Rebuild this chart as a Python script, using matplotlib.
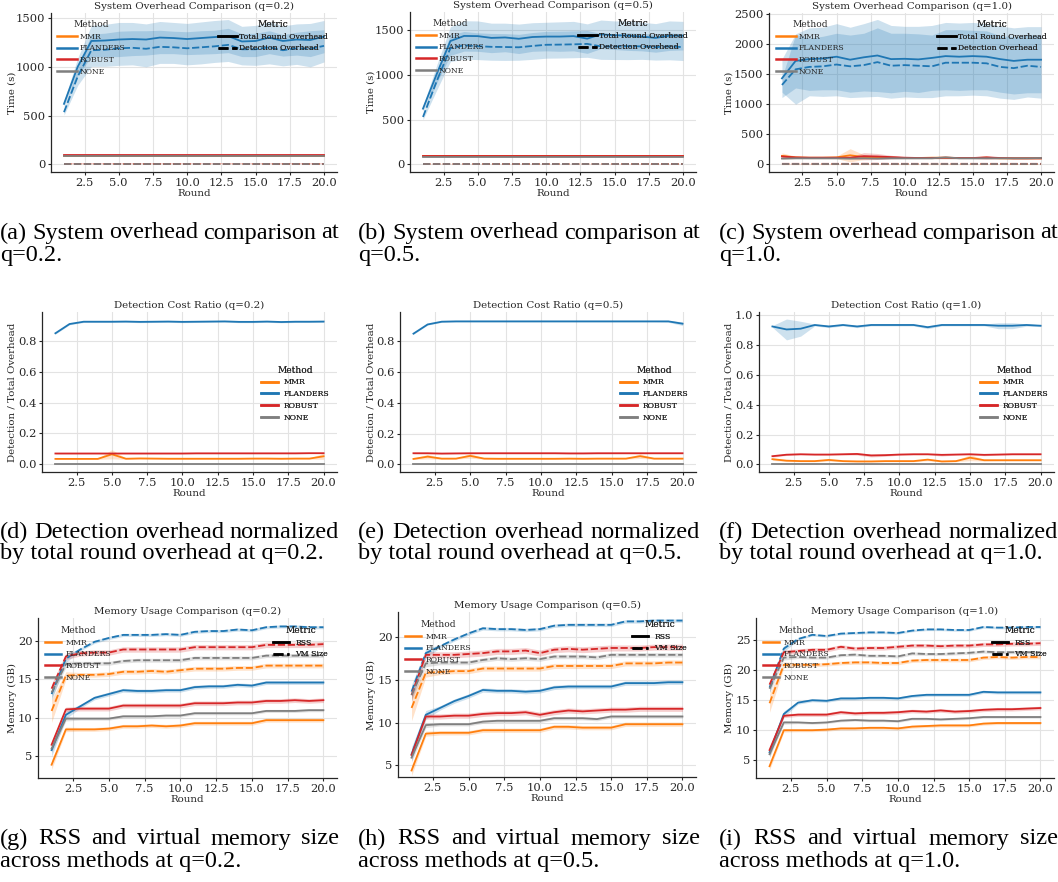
import numpy as np
import matplotlib
matplotlib.use("Agg")
import matplotlib.pyplot as plt
from matplotlib.lines import Line2D

# ---------------- data ----------------
rounds = list(range(1, 21))
methods = ["MMR", "FLANDERS", "ROBUST", "NONE"]
method_colors = ["#ff7f0e", "#1f77b4", "#d62728", "#7f7f7f"]

# System overhead (s): total round overhead / detection overhead
ovh_total_q02 = {
    "MMR": [88, 88, 88, 88, 88, 88, 88, 88, 88, 88, 88, 88, 88, 88, 88, 88, 88, 88, 88, 88],
    "FLANDERS": [620, 1000, 1265, 1270, 1280, 1285, 1280, 1300, 1295, 1285, 1295, 1305, 1315, 1260, 1265, 1300, 1265, 1280, 1275, 1310],
    "ROBUST": [95, 95, 95, 95, 95, 95, 95, 95, 95, 95, 95, 95, 95, 95, 95, 95, 95, 95, 95, 95],
    "NONE": [84, 84, 84, 84, 84, 84, 84, 84, 84, 84, 84, 84, 84, 84, 84, 84, 84, 84, 84, 84],
}
ovh_det_q02 = {
    "MMR": [3, 3, 3, 3, 3, 3, 3, 3, 3, 3, 3, 3, 3, 3, 3, 3, 3, 3, 3, 3],
    "FLANDERS": [535, 900, 1170, 1175, 1190, 1195, 1185, 1205, 1200, 1190, 1200, 1210, 1225, 1180, 1180, 1200, 1170, 1190, 1185, 1215],
    "ROBUST": [8, 8, 8, 8, 8, 8, 8, 8, 8, 8, 8, 8, 8, 8, 8, 8, 8, 8, 8, 8],
    "NONE": [0, 0, 0, 0, 0, 0, 0, 0, 0, 0, 0, 0, 0, 0, 0, 0, 0, 0, 0, 0],
}
ovh_total_ci_q02 = {
    "MMR": 2, "ROBUST": 2, "NONE": 2,
    "FLANDERS": [30, 90, 160, 165, 175, 170, 160, 165, 160, 160, 165, 170, 170, 155, 160, 165, 155, 160, 170, 165],
}
ovh_det_ci_q02 = {
    "MMR": 1, "ROBUST": 1, "NONE": 1,
    "FLANDERS": [30, 90, 165, 170, 175, 175, 185, 170, 165, 170, 170, 165, 170, 160, 165, 170, 160, 165, 185, 165],
}

ovh_total_q05 = {
    "MMR": [88, 88, 88, 88, 88, 88, 88, 88, 88, 88, 88, 88, 88, 88, 88, 88, 88, 88, 88, 88],
    "FLANDERS": [623, 1010, 1380, 1437, 1435, 1415, 1420, 1405, 1425, 1430, 1430, 1435, 1407, 1455, 1445, 1440, 1430, 1415, 1440, 1440],
    "ROBUST": [92, 92, 92, 92, 92, 92, 92, 92, 92, 92, 92, 92, 92, 92, 92, 92, 92, 92, 92, 92],
    "NONE": [86, 86, 86, 86, 86, 86, 86, 86, 86, 86, 86, 86, 86, 86, 86, 86, 86, 86, 86, 86],
}
ovh_det_q05 = {
    "MMR": [3, 3, 3, 3, 3, 3, 3, 3, 3, 3, 3, 3, 3, 3, 3, 3, 3, 3, 3, 3],
    "FLANDERS": [530, 930, 1300, 1332, 1322, 1315, 1313, 1310, 1325, 1338, 1340, 1343, 1348, 1320, 1318, 1322, 1320, 1312, 1320, 1312],
    "ROBUST": [8, 8, 8, 8, 8, 8, 8, 8, 8, 8, 8, 8, 8, 8, 8, 8, 8, 8, 8, 8],
    "NONE": [0, 0, 0, 0, 0, 0, 0, 0, 0, 0, 0, 0, 0, 0, 0, 0, 0, 0, 0, 0],
}
ovh_total_ci_q05 = {
    "MMR": 2, "ROBUST": 2, "NONE": 2,
    "FLANDERS": [30, 100, 160, 170, 170, 165, 160, 165, 160, 160, 165, 165, 165, 160, 160, 165, 160, 160, 165, 160],
}
ovh_det_ci_q05 = {
    "MMR": 1, "ROBUST": 1, "NONE": 1,
    "FLANDERS": [30, 100, 150, 155, 150, 150, 150, 145, 150, 150, 150, 150, 150, 145, 145, 150, 145, 145, 150, 150],
}

ovh_total_q10 = {
    "MMR": [140, 115, 110, 110, 115, 150, 120, 115, 110, 105, 105, 110, 110, 105, 105, 110, 100, 100, 100, 100],
    "FLANDERS": [1430, 1720, 1750, 1760, 1790, 1740, 1780, 1810, 1750, 1755, 1745, 1770, 1800, 1790, 1800, 1790, 1750, 1720, 1740, 1740],
    "ROBUST": [130, 115, 110, 110, 110, 110, 135, 130, 120, 110, 105, 105, 110, 105, 105, 115, 105, 100, 100, 100],
    "NONE": [95, 100, 100, 100, 100, 95, 100, 95, 100, 100, 100, 100, 115, 100, 100, 100, 100, 100, 100, 105],
}
ovh_det_q10 = {
    "MMR": [3, 3, 3, 3, 3, 4, 3, 3, 3, 3, 3, 3, 3, 3, 3, 3, 3, 3, 3, 3],
    "FLANDERS": [1320, 1580, 1620, 1630, 1660, 1630, 1650, 1700, 1640, 1650, 1640, 1630, 1690, 1690, 1690, 1680, 1620, 1600, 1640, 1620],
    "ROBUST": [8, 8, 8, 8, 8, 8, 9, 9, 8, 8, 8, 8, 8, 8, 8, 8, 8, 8, 8, 8],
    "NONE": [0, 0, 0, 0, 0, 0, 0, 0, 0, 0, 0, 0, 0, 0, 0, 0, 0, 0, 0, 0],
}
ovh_total_ci_q10 = {
    "MMR": [50, 20, 15, 15, 20, 110, 40, 20, 15, 10, 10, 15, 15, 10, 10, 15, 10, 10, 10, 10],
    "FLANDERS": [320, 450, 520, 520, 550, 540, 560, 600, 560, 540, 550, 540, 560, 560, 560, 550, 550, 550, 550, 550],
    "ROBUST": [30, 15, 15, 15, 15, 15, 60, 50, 30, 15, 10, 10, 15, 10, 10, 30, 10, 10, 10, 10],
    "NONE": [10, 10, 10, 10, 10, 10, 10, 10, 10, 10, 10, 10, 25, 10, 10, 10, 10, 10, 10, 15],
}
ovh_det_ci_q10 = {
    "MMR": 1, "ROBUST": 1, "NONE": 1,
    "FLANDERS": [120, 580, 480, 500, 520, 520, 530, 570, 540, 530, 530, 520, 550, 550, 540, 540, 520, 520, 520, 520],
}

# Detection cost ratio (detection / total overhead)
ratio_q02 = {
    "MMR": [0.035, 0.035, 0.035, 0.035, 0.065, 0.036, 0.038, 0.037, 0.036, 0.036, 0.036, 0.036, 0.036, 0.036, 0.037, 0.037, 0.036, 0.037, 0.037, 0.052],
    "FLANDERS": [0.850, 0.910, 0.925, 0.925, 0.925, 0.926, 0.924, 0.925, 0.926, 0.924, 0.925, 0.926, 0.927, 0.924, 0.924, 0.926, 0.923, 0.925, 0.925, 0.926],
    "ROBUST": [0.070, 0.070, 0.070, 0.070, 0.070, 0.070, 0.070, 0.070, 0.070, 0.070, 0.071, 0.071, 0.071, 0.071, 0.071, 0.071, 0.071, 0.071, 0.072, 0.072],
    "NONE": [0, 0, 0, 0, 0, 0, 0, 0, 0, 0, 0, 0, 0, 0, 0, 0, 0, 0, 0, 0],
}
ratio_ci_q02 = {
    "MMR": [0.003, 0.003, 0.003, 0.003, 0.03, 0.004, 0.004, 0.003, 0.003, 0.003, 0.003, 0.003, 0.003, 0.003, 0.003, 0.003, 0.003, 0.003, 0.004, 0.02],
    "FLANDERS": 0.005, "ROBUST": 0.002, "NONE": 0.0,
}
ratio_q05 = {
    "MMR": [0.035, 0.050, 0.037, 0.037, 0.055, 0.037, 0.036, 0.036, 0.036, 0.036, 0.036, 0.037, 0.036, 0.037, 0.037, 0.037, 0.053, 0.037, 0.037, 0.037],
    "FLANDERS": [0.850, 0.910, 0.928, 0.930, 0.930, 0.930, 0.930, 0.930, 0.930, 0.930, 0.930, 0.930, 0.930, 0.930, 0.930, 0.930, 0.930, 0.930, 0.930, 0.915],
    "ROBUST": [0.072, 0.072, 0.070, 0.071, 0.072, 0.072, 0.072, 0.072, 0.072, 0.072, 0.072, 0.071, 0.071, 0.072, 0.072, 0.072, 0.072, 0.072, 0.072, 0.072],
    "NONE": [0, 0, 0, 0, 0, 0, 0, 0, 0, 0, 0, 0, 0, 0, 0, 0, 0, 0, 0, 0],
}
ratio_ci_q05 = {
    "MMR": [0.003, 0.015, 0.004, 0.003, 0.015, 0.004, 0.003, 0.003, 0.003, 0.003, 0.003, 0.003, 0.003, 0.003, 0.003, 0.004, 0.015, 0.004, 0.003, 0.003],
    "FLANDERS": [0.004, 0.004, 0.004, 0.004, 0.004, 0.004, 0.004, 0.004, 0.004, 0.004, 0.004, 0.004, 0.004, 0.004, 0.004, 0.004, 0.004, 0.004, 0.006, 0.012],
    "ROBUST": 0.003, "NONE": 0.0,
}
ratio_q10 = {
    "MMR": [0.035, 0.025, 0.022, 0.022, 0.030, 0.022, 0.020, 0.020, 0.022, 0.022, 0.022, 0.032, 0.020, 0.022, 0.045, 0.028, 0.028, 0.028, 0.028, 0.028],
    "FLANDERS": [0.925, 0.905, 0.910, 0.935, 0.925, 0.935, 0.925, 0.935, 0.935, 0.935, 0.935, 0.920, 0.935, 0.935, 0.935, 0.935, 0.930, 0.930, 0.935, 0.930],
    "ROBUST": [0.055, 0.065, 0.068, 0.066, 0.066, 0.068, 0.070, 0.060, 0.062, 0.066, 0.068, 0.068, 0.064, 0.066, 0.068, 0.064, 0.066, 0.068, 0.068, 0.068],
    "NONE": [0, 0, 0, 0, 0, 0, 0, 0, 0, 0, 0, 0, 0, 0, 0, 0, 0, 0, 0, 0],
}
ratio_ci_q10 = {
    "MMR": [0.008, 0.006, 0.004, 0.004, 0.008, 0.004, 0.004, 0.004, 0.004, 0.004, 0.004, 0.008, 0.004, 0.004, 0.020, 0.006, 0.005, 0.005, 0.005, 0.005],
    "FLANDERS": [0.006, 0.070, 0.050, 0.006, 0.008, 0.006, 0.008, 0.006, 0.006, 0.006, 0.006, 0.010, 0.006, 0.006, 0.006, 0.006, 0.020, 0.020, 0.008, 0.006],
    "ROBUST": [0.006, 0.005, 0.004, 0.004, 0.004, 0.005, 0.008, 0.010, 0.008, 0.004, 0.004, 0.004, 0.008, 0.004, 0.004, 0.006, 0.004, 0.004, 0.004, 0.004],
    "NONE": 0.0,
}

# Memory (GB): RSS / VM size
mem_rss_q02 = {
    "MMR": [3.9, 8.5, 8.5, 8.5, 8.6, 8.9, 8.9, 9.0, 8.9, 9.0, 9.3, 9.3, 9.3, 9.3, 9.3, 9.7, 9.7, 9.7, 9.7, 9.7],
    "FLANDERS": [5.8, 10.4, 11.5, 12.6, 13.1, 13.6, 13.5, 13.5, 13.6, 13.6, 14.0, 14.1, 14.1, 14.3, 14.2, 14.6, 14.6, 14.6, 14.6, 14.6],
    "ROBUST": [6.5, 11.1, 11.2, 11.2, 11.2, 11.6, 11.6, 11.6, 11.6, 11.6, 11.9, 11.9, 11.9, 12.0, 12.0, 12.2, 12.2, 12.3, 12.2, 12.3],
    "NONE": [6.0, 9.9, 9.9, 9.9, 9.9, 10.2, 10.2, 10.2, 10.3, 10.3, 10.6, 10.6, 10.6, 10.6, 10.6, 10.9, 10.9, 10.9, 11.0, 11.0],
}
mem_vm_q02 = {
    "MMR": [10.9, 15.5, 15.6, 15.6, 15.7, 16.0, 16.0, 16.1, 16.0, 16.2, 16.4, 16.4, 16.4, 16.5, 16.5, 16.8, 16.8, 16.8, 16.8, 16.8],
    "FLANDERS": [13.1, 17.7, 18.9, 19.9, 20.4, 20.8, 20.8, 20.8, 20.9, 20.8, 21.2, 21.3, 21.3, 21.5, 21.4, 21.8, 21.9, 21.9, 21.8, 21.8],
    "ROBUST": [13.8, 18.0, 18.4, 18.5, 18.5, 18.9, 18.9, 18.9, 18.9, 18.9, 19.2, 19.2, 19.2, 19.2, 19.2, 19.5, 19.5, 19.5, 19.5, 19.6],
    "NONE": [13.3, 17.0, 17.1, 17.1, 17.1, 17.4, 17.5, 17.5, 17.5, 17.5, 17.8, 17.8, 17.8, 17.8, 17.8, 18.1, 18.1, 18.1, 18.1, 18.1],
}
mem_rss_q05 = {
    "MMR": [4.4, 8.7, 8.8, 8.8, 8.8, 9.1, 9.1, 9.1, 9.1, 9.1, 9.5, 9.5, 9.4, 9.4, 9.4, 9.8, 9.8, 9.8, 9.8, 9.8],
    "FLANDERS": [6.3, 10.9, 11.7, 12.5, 13.1, 13.8, 13.7, 13.7, 13.6, 13.7, 14.1, 14.2, 14.2, 14.2, 14.2, 14.6, 14.6, 14.6, 14.7, 14.7],
    "ROBUST": [6.2, 10.7, 10.7, 10.8, 10.8, 11.0, 11.1, 11.1, 11.2, 10.9, 11.2, 11.4, 11.3, 11.4, 11.5, 11.5, 11.6, 11.6, 11.6, 11.6],
    "NONE": [5.9, 9.7, 9.8, 9.8, 9.8, 10.1, 10.2, 10.2, 10.2, 10.2, 10.5, 10.5, 10.5, 10.4, 10.7, 10.7, 10.7, 10.7, 10.7, 10.7],
}
mem_vm_q05 = {
    "MMR": [11.7, 15.8, 15.9, 16.0, 16.0, 16.3, 16.3, 16.3, 16.3, 16.3, 16.6, 16.6, 16.6, 16.6, 16.6, 16.9, 16.9, 16.9, 17.0, 17.0],
    "FLANDERS": [13.6, 18.1, 18.9, 19.7, 20.4, 21.0, 20.9, 20.9, 20.8, 20.9, 21.3, 21.4, 21.4, 21.4, 21.4, 21.8, 21.8, 21.9, 21.9, 21.9],
    "ROBUST": [13.2, 17.9, 17.9, 17.9, 18.0, 18.1, 18.3, 18.3, 18.4, 18.1, 18.5, 18.6, 18.5, 18.6, 18.7, 18.7, 18.7, 18.8, 18.8, 18.8],
    "NONE": [13.2, 16.9, 17.0, 17.0, 17.0, 17.3, 17.5, 17.4, 17.5, 17.4, 17.7, 17.7, 17.7, 17.6, 17.9, 17.9, 17.9, 17.9, 17.9, 17.9],
}
mem_rss_q10 = {
    "MMR": [3.9, 9.9, 9.9, 9.9, 10.0, 10.2, 10.2, 10.3, 10.3, 10.2, 10.5, 10.6, 10.7, 10.7, 10.7, 11.0, 11.1, 11.1, 11.1, 11.1],
    "FLANDERS": [6.2, 12.6, 14.5, 14.9, 14.8, 15.2, 15.2, 15.3, 15.3, 15.2, 15.6, 15.8, 15.8, 15.8, 15.8, 16.3, 16.2, 16.2, 16.2, 16.2],
    "ROBUST": [6.6, 12.3, 12.5, 12.5, 12.5, 12.9, 12.7, 12.8, 12.8, 12.9, 13.1, 13.0, 13.2, 13.0, 13.1, 13.3, 13.4, 13.4, 13.5, 13.6],
    "NONE": [5.9, 11.2, 11.2, 11.1, 11.2, 11.5, 11.6, 11.5, 11.5, 11.4, 11.8, 11.8, 11.7, 11.8, 11.9, 12.1, 12.1, 12.1, 12.1, 12.1],
}
mem_vm_q10 = {
    "MMR": [14.4, 20.8, 20.8, 20.8, 20.9, 21.1, 21.2, 21.2, 21.1, 21.1, 21.5, 21.6, 21.6, 21.6, 21.6, 22.0, 22.1, 22.0, 22.1, 22.1],
    "FLANDERS": [17.0, 23.5, 25.1, 25.8, 25.6, 26.0, 26.1, 26.2, 26.2, 26.1, 26.5, 26.7, 26.7, 26.6, 26.6, 27.1, 27.0, 27.0, 27.1, 27.1],
    "ROBUST": [17.5, 22.9, 23.1, 23.3, 23.3, 23.8, 23.5, 23.6, 23.6, 23.8, 24.0, 24.0, 23.9, 24.0, 24.0, 24.2, 24.2, 24.3, 24.3, 24.4],
    "NONE": [16.8, 22.0, 22.1, 22.0, 22.0, 22.4, 22.5, 22.3, 22.3, 22.2, 22.7, 22.6, 22.6, 22.7, 22.8, 23.0, 22.9, 22.9, 22.9, 22.9],
}
# confidence-band half widths (GB): first round, second round, later rounds
mem_rss_ci = {"MMR": (0.6, 0.3, 0.25), "FLANDERS": (0.8, 0.5, 0.25), "ROBUST": (0.5, 0.3, 0.3), "NONE": (0.5, 0.3, 0.2)}
mem_vm_ci = {"MMR": (1.5, 0.5, 0.3), "FLANDERS": (0.8, 0.5, 0.2), "ROBUST": (0.6, 0.4, 0.35), "NONE": (0.7, 0.4, 0.25)}

# ---------------- style ----------------
plt.rcParams.update({
    "font.family": ["DejaVu Serif"],
    "axes.edgecolor": "#262626",
    "axes.linewidth": 0.9,
    "text.color": "#262626",
    "xtick.color": "#262626",
    "ytick.color": "#262626",
    "axes.labelcolor": "#262626",
})

W, H = 1058, 882
fig = plt.figure(figsize=(W / 100, H / 100), dpi=100)
fig.patch.set_facecolor("white")
renderer = fig.canvas.get_renderer()

CAP_FAMILY = ["Liberation Serif", "DejaVu Serif"]


def fit_size(s, target_px, family="DejaVu Serif"):
    t = fig.text(0, 0, s, fontsize=10, family=family)
    w = t.get_window_extent(renderer).width
    t.remove()
    return 10.0 * target_px / w


TITLE_FS = fit_size("System Overhead Comparison (q=0.2)", 200)
TICK_FS = fit_size("1500", 29)
LABEL_FS = fit_size("Round", 34)
LEG_FS = fit_size("FLANDERS", 46)
LEG_TITLE_FS = fit_size("Method", 35)
CAP_FS = 0.5 * (fit_size("by total round overhead at q=0.2.", 325, CAP_FAMILY)
                + fit_size("across methods at q=0.2.", 239, CAP_FAMILY))
LW = 1.3
DASH = (4, 1.5)


def add_ax(l, t, r, b):
    return fig.add_axes([l / W, 1 - b / H, (r - l) / W, (b - t) / H])


def style_ax(ax, box, title, ylabel, ylim, ylabel_x):
    ax.set_title(title, fontsize=TITLE_FS, pad=3)
    ax.set_xlabel("Round", fontsize=LABEL_FS, labelpad=1)
    ax.set_ylabel(ylabel, fontsize=LABEL_FS)
    # ylabel: centre of the rotated text at ylabel_x (pixels); anchor is its right edge
    ax.yaxis.set_label_coords((ylabel_x + 5 - box[0]) / (box[2] - box[0]), 0.5)
    ax.set_xlim(0.05, 20.95)
    ax.set_ylim(*ylim)
    ax.set_xticks([2.5, 5.0, 7.5, 10.0, 12.5, 15.0, 17.5, 20.0])
    ax.tick_params(labelsize=TICK_FS, length=2.5, width=0.8, pad=1.5)
    ax.grid(True, color="#e3e3e3", lw=0.8)
    ax.set_axisbelow(True)
    for s in ("top", "right"):
        ax.spines[s].set_visible(False)


def ci_array(ci):
    if isinstance(ci, tuple):
        return np.r_[ci[0], ci[1], np.full(len(rounds) - 2, ci[2])]
    return np.broadcast_to(np.asarray(ci, dtype=float), (len(rounds),))


def draw_series(ax, values, cis, dashed):
    x = np.array(rounds)
    for m, c in zip(methods, method_colors):
        y = np.asarray(values[m], dtype=float)
        e = ci_array(cis[m])
        ax.fill_between(x, y - e, y + e, color=c, alpha=0.22, lw=0)
        if dashed:
            ax.plot(x, y, color=c, lw=LW, dashes=DASH)
        else:
            ax.plot(x, y, color=c, lw=LW)


def method_legend(ax, loc, anchor, hl, pad):
    handles = [Line2D([], [], color=c, lw=1.8) for c in method_colors]
    leg = ax.legend(handles, methods, title="Method", loc=loc, bbox_to_anchor=anchor,
                    frameon=False, fontsize=LEG_FS, title_fontsize=LEG_TITLE_FS,
                    borderaxespad=0, borderpad=0, handlelength=hl, handletextpad=pad,
                    labelspacing=0.48)
    ax.add_artist(leg)
    return leg


def metric_legend(ax, labels, anchor, hl, pad):
    handles = [Line2D([], [], color="black", lw=1.8),
               Line2D([], [], color="black", lw=1.8, dashes=DASH)]
    leg = ax.legend(handles, labels, title="Metric", loc="upper right", bbox_to_anchor=anchor,
                    frameon=False, fontsize=LEG_FS, title_fontsize=LEG_TITLE_FS,
                    borderaxespad=0, borderpad=0, handlelength=hl, handletextpad=pad,
                    labelspacing=0.48)
    ax.add_artist(leg)
    return leg


# ---------------- row 1: system overhead ----------------
row1 = [
    ((51, 13, 337, 172), "0.2", ovh_total_q02, ovh_det_q02, ovh_total_ci_q02, ovh_det_ci_q02, (-79, 1552), 6, 9, 12),
    ((410, 12, 696, 172), "0.5", ovh_total_q05, ovh_det_q05, ovh_total_ci_q05, ovh_det_ci_q05, (-86, 1705), 6, 8, 371),
    ((769, 13, 1054, 172), "1.0", ovh_total_q10, ovh_det_q10, ovh_total_ci_q10, ovh_det_ci_q10, (-128, 2517), 7, 7, 729),
]
for box, q, tot, det, tci, dci, yl, lpad, rpad, ylx in row1:
    ax = add_ax(*box)
    draw_series(ax, tot, tci, False)
    draw_series(ax, det, dci, True)
    style_ax(ax, box, f"System Overhead Comparison (q={q})", "Time (s)", yl, ylx)
    h = box[3] - box[1]
    w = box[2] - box[0]
    method_legend(ax, "upper left", (lpad / w, 1 - 7 / h), 2.6, 0.3)
    metric_legend(ax, ["Total Round Overhead", "Detection Overhead"], (1 - rpad / w, 1 - 7 / h), 2.4, 0.35)

# ---------------- row 2: detection cost ratio ----------------
row2 = [
    ((42, 312, 337, 472), "0.2", ratio_q02, ratio_ci_q02, (-0.05, 0.988), 8, 12),
    ((400, 312, 696, 472), "0.5", ratio_q05, ratio_ci_q05, (-0.05, 0.991), 8, 370),
    ((759, 312, 1054, 472), "1.0", ratio_q10, ratio_ci_q10, (-0.051, 1.022), 6, 729),
]
for box, q, vals, cis, yl, rpad, ylx in row2:
    ax = add_ax(*box)
    draw_series(ax, vals, cis, False)
    style_ax(ax, box, f"Detection Cost Ratio (q={q})", "Detection / Total Overhead", yl, ylx)
    w = box[2] - box[0]
    method_legend(ax, "center right", (1 - rpad / w, 0.49), 2.1, 0.7)

# ---------------- row 3: memory ----------------
row3 = [
    ((38, 618, 337, 778), "0.2", mem_rss_q02, mem_vm_q02, (2.17, 23.0), 9, 12),
    ((398, 612, 696, 777), "0.5", mem_rss_q05, mem_vm_q05, (3.64, 22.9), 9, 371),
    ((756, 618, 1054, 778), "1.0", mem_rss_q10, mem_vm_q10, (1.94, 28.6), 7, 729),
]
for box, q, rss, vm, yl, rpad, ylx in row3:
    ax = add_ax(*box)
    draw_series(ax, rss, mem_rss_ci, False)
    draw_series(ax, vm, mem_vm_ci, True)
    style_ax(ax, box, f"Memory Usage Comparison (q={q})", "Memory (GB)", yl, ylx)
    h = box[3] - box[1]
    w = box[2] - box[0]
    method_legend(ax, "upper left", (7 / w, 1 - 8 / h), 2.1, 0.6)
    metric_legend(ax, ["RSS", "VM Size"], (1 - rpad / w, 1 - 8 / h), 2.0, 0.8)

# ---------------- captions ----------------
cap_kw = dict(fontsize=CAP_FS, family=CAP_FAMILY, color="black", va="center", ha="left")
captions = [
    (0, 339, 233, "(a) System overhead comparison at", "q=0.2."),
    (358, 700, 233, "(b) System overhead comparison at", "q=0.5."),
    (719, 1058, 233, "(c) System overhead comparison at", "q=1.0."),
    (0, 339, 532, "(d) Detection overhead normalized", "by total round overhead at q=0.2."),
    (358, 700, 532, "(e) Detection overhead normalized", "by total round overhead at q=0.5."),
    (719, 1058, 532, "(f) Detection overhead normalized", "by total round overhead at q=1.0."),
    (0, 339, 839, "(g) RSS and virtual memory size", "across methods at q=0.2."),
    (358, 700, 839, "(h) RSS and virtual memory size", "across methods at q=0.5."),
    (719, 1058, 839, "(i) RSS and virtual memory size", "across methods at q=1.0."),
]
for x0, x1, y, line1, line2 in captions:
    words = line1.split()
    texts = [fig.text(0, 0, wd, **cap_kw) for wd in words]
    widths = [t.get_window_extent(renderer).width for t in texts]
    gap = (x1 - x0 - sum(widths)) / (len(words) - 1)
    xx = x0
    for t, wd in zip(texts, widths):
        t.set_position((xx / W, 1 - y / H))
        xx += wd + gap
    fig.text(x0 / W, 1 - (y + 22) / H, line2, **cap_kw)

fig.savefig("out.png", dpi=100)
